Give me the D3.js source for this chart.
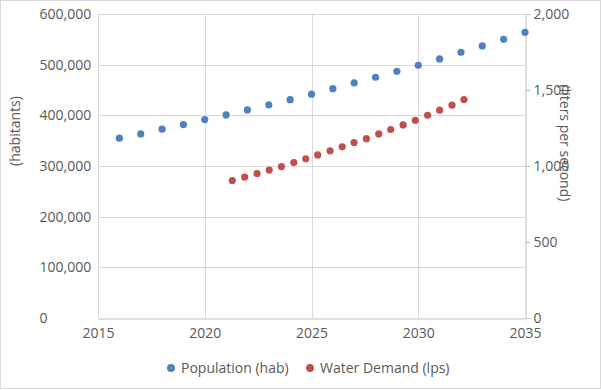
<!DOCTYPE html>
<html>
<head>
<meta charset="utf-8">
<script src="https://cdn.jsdelivr.net/npm/d3@7"></script>
<style>
  body { margin: 0; background: #fff; }
  text { font-family: "Open Sans", sans-serif; fill: #595959; }
</style>
</head>
<body>
<svg width="601" height="390"></svg>
<script>
// population (left axis)
var years = [2016, 2017, 2018, 2019, 2020, 2021, 2022, 2023, 2024, 2025,
             2026, 2027, 2028, 2029, 2030, 2031, 2032, 2033, 2034, 2035];
var population = [354900, 363400, 372700, 381700, 391600, 400900, 410700, 420600, 431000, 441700,
                  452700, 464000, 475200, 487000, 498800, 511300, 524500, 536900, 550100, 563900];

// water demand (right axis)
var demandYears = [2021.29, 2021.87, 2022.45, 2023.02, 2023.59, 2024.17, 2024.73, 2025.29, 2025.87, 2026.44,
                   2026.99, 2027.57, 2028.15, 2028.71, 2029.29, 2029.86, 2030.44, 2031.0, 2031.58, 2032.14];
var demand = [904, 927, 950, 973, 996, 1023, 1047, 1073, 1100, 1126,
              1154, 1180, 1211, 1240, 1270, 1301, 1334, 1367, 1400, 1437];

var xTicks = [2015, 2020, 2025, 2030, 2035];
var leftTicks = [0, 100000, 200000, 300000, 400000, 500000, 600000];
var rightTicks = [0, 500, 1000, 1500, 2000];

var legendLabels = ["Population (hab)", "Water Demand (lps)"];
var colores = ["#4F81BD", "#C0504D"];

function dibujar() {
  var svg = d3.select("svg");
  var left = 98, right = 525, top = 14, bottom = 318;

  var x = d3.scaleLinear().domain([2015, 2035]).range([left, right]);
  var y = d3.scaleLinear().domain([0, 600000]).range([bottom, top]);
  var y2 = d3.scaleLinear().domain([0, 2000]).range([bottom, top]);

  // chart border
  svg.append("rect")
    .attr("x", 0.5).attr("y", 0.5)
    .attr("width", 600).attr("height", 388)
    .attr("fill", "none")
    .attr("stroke", "#d9d9d9");

  // grid
  svg.append("g").selectAll("line")
    .data(leftTicks.slice(1))
    .enter().append("line")
    .attr("x1", left).attr("x2", right)
    .attr("y1", function(d) { return Math.round(y(d)) + 0.5; })
    .attr("y2", function(d) { return Math.round(y(d)) + 0.5; })
    .attr("stroke", "#d9d9d9");

  svg.append("g").selectAll("line")
    .data(xTicks.slice(0, -1))
    .enter().append("line")
    .attr("x1", function(d) { return Math.round(x(d)) + 0.5; })
    .attr("x2", function(d) { return Math.round(x(d)) + 0.5; })
    .attr("y1", top).attr("y2", bottom)
    .attr("stroke", "#d9d9d9");

  // bottom axis
  var ax = svg.append("g")
    .attr("transform", "translate(0," + (bottom + 0.5) + ")")
    .call(d3.axisBottom(x).tickValues(xTicks).tickFormat(d3.format("d")).tickSizeInner(0).tickSizeOuter(0).tickPadding(10));
  ax.select(".domain").attr("stroke", "#bfbfbf");
  ax.selectAll("text").style("font-size", "14px");

  // left axis labels (left aligned, like the original)
  var ay = svg.append("g")
    .attr("transform", "translate(" + (left + 0.5) + ",0)")
    .call(d3.axisLeft(y).tickValues(leftTicks).tickFormat(d3.format(",")).tickSize(0).tickPadding(8));
  ay.select(".domain").remove();
  ay.selectAll("text")
    .attr("text-anchor", "start")
    .attr("x", 39 - left)
    .style("font-size", "14px");

  // right axis
  var ay2 = svg.append("g")
    .attr("transform", "translate(" + (right + 0.5) + ",0)")
    .call(d3.axisRight(y2).tickValues(rightTicks).tickFormat(d3.format(",")).tickSizeInner(5).tickSizeOuter(0).tickPadding(3));
  ay2.select(".domain").attr("stroke", "#bfbfbf");
  ay2.selectAll("line").attr("stroke", "#bfbfbf");
  ay2.selectAll("text").style("font-size", "14px");

  // axis titles
  svg.append("text")
    .attr("transform", "translate(20,131) rotate(-90)")
    .attr("text-anchor", "middle")
    .style("font-size", "14px")
    .text("(habitants)");

  svg.append("text")
    .attr("transform", "translate(560,143) rotate(90)")
    .attr("text-anchor", "middle")
    .style("font-size", "14px")
    .text("(liters per second)");

  // points
  svg.append("g").selectAll("circle")
    .data(years)
    .enter().append("circle")
    .attr("cx", function(d) { return x(d); })
    .attr("cy", function(d, i) { return y(population[i]); })
    .attr("r", 3.6)
    .attr("fill", colores[0]);

  svg.append("g").selectAll("circle")
    .data(demandYears)
    .enter().append("circle")
    .attr("cx", function(d) { return x(d); })
    .attr("cy", function(d, i) { return y2(demand[i]); })
    .attr("r", 3.6)
    .attr("fill", colores[1]);

  // legend
  var posX = [171, 310];
  var legend = svg.append("g").selectAll("g")
    .data(legendLabels)
    .enter().append("g")
    .attr("transform", function(d, i) { return "translate(" + posX[i] + ",368)"; });
  legend.append("circle")
    .attr("r", 4)
    .attr("fill", function(d, i) { return colores[i]; });
  legend.append("text")
    .attr("x", 10)
    .attr("dy", "0.35em")
    .style("font-size", "14px")
    .text(function(d) { return d; });
}

dibujar();
</script>
</body>
</html>
